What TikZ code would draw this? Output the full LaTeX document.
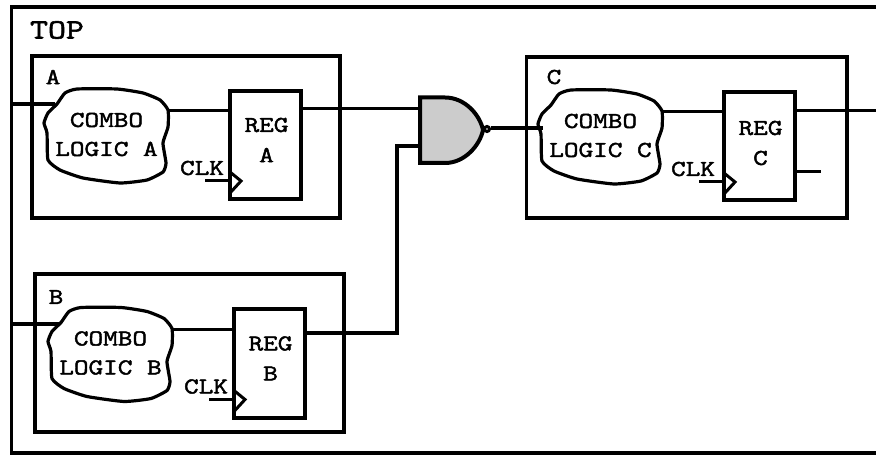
\documentclass[tikz,border=0pt]{standalone}
\usepackage{fontspec}
\newfontfamily\labelfont[FakeStretch=1.25,FakeBold=2]{Latin Modern Mono}
\tikzset{
  x=1bp,y=-1bp,
  wire/.style={line width=3bp,line cap=butt},
  frame/.style={draw=black,line width=3.6bp,fill=none},
  regbox/.style={draw=black,line width=4bp,fill=white,rectangle,minimum width=71bp,minimum height=108bp,inner sep=0pt,outer sep=0pt,anchor=north west},
  blob/.style={draw=black,line width=3.2bp,fill=white},
  txt/.style={font=\labelfont\fontsize{22.8}{24}\selectfont,inner sep=0pt,anchor=center},
  toptxt/.style={font=\labelfont\fontsize{28}{30}\selectfont,inner sep=0pt,anchor=center}
}
% #1 prefix, #2 dx, #3 dy, #4 name letter, #5 vertical nudge of the register text, #6 horizontal nudge of CLK
\newcommand{\module}[6]{%
  \begin{scope}[shift={(#2,#3)}]
    \coordinate (#1in) at (55,104);
    \coordinate (#1blobout) at (168,111);
    \coordinate (#1regin) at (230,111);
    \coordinate (#1clkin) at (205,181);
    \coordinate (#1clkend) at (230,181);
    \draw[blob] plot[smooth cycle,tension=0.3] coordinates {(57,104) (65,93) (77,89) (117,89) (143,93) (160,100) (168,110) (168,127) (163,143) (166,163) (163,172) (147,180) (120,183) (83,178) (60,170) (48,160) (47,133) (44,123) (48,113)};
    \node[regbox] (#1reg) at (230,91) {};
    \draw[line width=3bp,line join=miter] (230,172) -- (241,181) -- (230,193);
    \node[txt] (#1combo) at (106.5,120) {COMBO};
    \node[txt] (#1logic) at (106.5,149) {LOGIC #4};
    \node[txt] (#1regtxt) at (266.5,{125+#5}) {REG};
    \node[txt] (#1regname) at (266.5,{155+#5}) {#4};
    \node[txt] (#1clktxt) at ({202+#6},168) {CLK};
    \draw[wire] (#1blobout) -- (#1regin);
    \draw[wire] (#1clkin) -- (#1clkend);
  \end{scope}}
\begin{document}
\begin{tikzpicture}
\useasboundingbox (0,0) rectangle (876,455);
\fill[white] (0,0) rectangle (876,455);
\draw[frame] (876,7) -- (11.5,7) -- (11.5,453) -- (876,453);
\node[toptxt] (top) at (57,30) {TOP};
\draw[frame] (32,56) rectangle (340,218);
\draw[frame] (35,274) rectangle (344,432);
\draw[frame] (526.5,57) rectangle (847,218);
\node[txt] (alabel) at (53,77) {A};
\node[txt] (blabel) at (56,297) {B};
\node[txt] (clabel) at (554,77) {C};
\coordinate (leftA) at (11.5,104);
\coordinate (leftB) at (11.5,324);
\module{A}{0}{0}{A}{0}{0}
\module{B}{4}{218.5}{B}{0}{0}
\module{C}{494}{1}{C}{2}{-3}
% gate
\draw[line width=4bp,fill=black!20] (420,97.5) -- (445,97.5) .. controls (465,97.5) and (480,115) .. (483,130) .. controls (480,145) and (465,163) .. (445,163) -- (420,163) -- cycle;
\coordinate (gatea) at (420,109);
\coordinate (gateb) at (420,146);
\node[draw=black,line width=3bp,circle,minimum size=5bp,inner sep=0pt,fill=white] (bubble) at (487,129) {};
% connectors
\draw[wire,line width=4bp] (leftA) -- (Ain);
\draw[wire,line width=3.5bp] (leftB) -- (Bin |- leftB);
\draw[wire] (Areg.east |- gatea) -- (gatea);
\draw[wire,line width=3.5bp,line join=miter] (Breg.east |- 0,333) -- (397,333) -- (397,146) -- (gateb);
\coordinate (combCin) at (543,128);
\draw[wire,line width=3.5bp] (bubble.east |- combCin) -- (combCin);
\coordinate (outC) at (876,111);
\draw[wire] (Creg.east |- outC) -- (outC);
\coordinate (qbar) at (821,172);
\draw[wire] (Creg.east |- qbar) -- (qbar);
\end{tikzpicture}
\end{document}
